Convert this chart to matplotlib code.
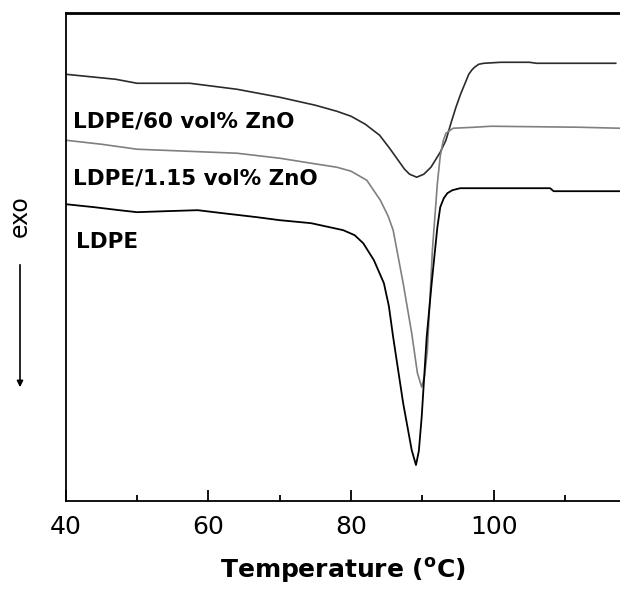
import matplotlib
matplotlib.use('agg')
import matplotlib.pyplot as plt

plt.rcParams['font.family'] = ['DejaVu Sans']

# DSC cooling curves (heat flow, arbitrary units)
t_zno60 = [40, 47, 50, 57.4, 64, 70, 75, 78, 80, 82, 84, 85.4, 86.5, 87.5, 88.2, 89.2,
           90.2, 91.2, 92.5, 93.3, 94.0, 94.7, 95.4, 96.1, 96.5, 96.9, 97.3, 97.9, 98.6,
           101, 105, 106, 117.1]
h_zno60 = [427, 422, 418, 418, 412, 404, 396, 390, 385, 377, 366, 353, 342, 332, 327, 324,
           327, 334, 349, 361, 378, 394, 408, 420, 427, 431, 434, 437, 438,
           439, 439, 438, 438]

t_zno115 = [40, 45, 50, 57, 64, 70, 74.4, 78, 80, 82.2, 84.1, 85.2, 85.9, 87.3, 88.5,
            89.3, 89.9, 90.3, 90.7, 91.4, 92.1, 92.5, 92.9, 93.3, 94.3, 97.3, 99.6,
            112, 117.7]
h_zno115 = [361, 357, 352, 350, 348, 343, 338, 334, 330, 321, 301, 285, 271, 218, 168,
            128, 114, 125, 151, 251, 318, 345, 360, 368, 373, 374, 375,
            374, 373]

t_ldpe = [40, 44, 47.5, 50, 54, 58.5, 62, 66.8, 70, 74.4, 78.9, 80.5, 81.7, 83.2, 84.6,
          85.3, 85.9, 87.3, 88.5, 89.1, 89.5, 89.9, 90.6, 91.3, 92.1, 92.5, 93.0, 93.5,
          94.2, 95.3, 107.9, 108.4, 117.7]
h_ldpe = [297, 294, 291, 289, 290, 291, 288, 284, 281, 278, 271, 266, 258, 241, 218,
          195, 164, 98, 51, 36, 50, 84, 164, 218, 274, 294, 303, 308,
          311, 313, 313, 310, 310]

labels = ['LDPE/60 vol% ZnO', 'LDPE/1.15 vol% ZnO', 'LDPE']

fig = plt.figure(figsize=(6.2, 5.89), dpi=100)
ax = fig.add_axes([0.106, 0.1494, 0.894, 0.8280])

ax.plot(t_zno60, h_zno60, color='#2b2b2b', lw=1.2)
ax.plot(t_zno115, h_zno115, color='#808080', lw=1.2)
ax.plot(t_ldpe, h_ldpe, color='#000000', lw=1.3)

ax.set_xlim(40, 117.7)
ax.set_ylim(0, 488)

ax.set_xticks([40, 60, 80, 100])
ax.set_xticks([50, 70, 90, 110], minor=True)
ax.set_yticks([])
ax.tick_params(axis='x', which='major', direction='in', length=8, width=1.3,
               labelsize=18, pad=10)
ax.tick_params(axis='x', which='minor', direction='in', length=4.5, width=1.3)

ax.spines['right'].set_visible(False)
ax.spines['top'].set_linewidth(2)
ax.spines['left'].set_linewidth(1.3)
ax.spines['bottom'].set_linewidth(1.3)

ax.set_xlabel('Temperature ($\\mathregular{^o}$C)', fontsize=18, fontweight='bold',
              labelpad=12)

# sample labels (axes-fraction positions)
ax.text(0.013, 0.779, labels[0], transform=ax.transAxes, fontsize=15.5,
        fontweight='bold', va='center', ha='left')
ax.text(0.013, 0.662, labels[1], transform=ax.transAxes, fontsize=15.5,
        fontweight='bold', va='center', ha='left')
ax.text(0.019, 0.531, labels[2], transform=ax.transAxes, fontsize=15.5,
        fontweight='bold', va='center', ha='left')

# exo arrow
fig.text(20 / 620, 1 - 216 / 589, 'exo', rotation=90, fontsize=17,
         ha='center', va='center')
fig.add_artist(matplotlib.patches.FancyArrowPatch(
    (20 / 620, 1 - 262 / 589), (20 / 620, 1 - 390 / 589),
    transform=fig.transFigure, arrowstyle='-|>', mutation_scale=9,
    lw=1.2, color='black'))

plt.savefig('out.png', dpi=100)
